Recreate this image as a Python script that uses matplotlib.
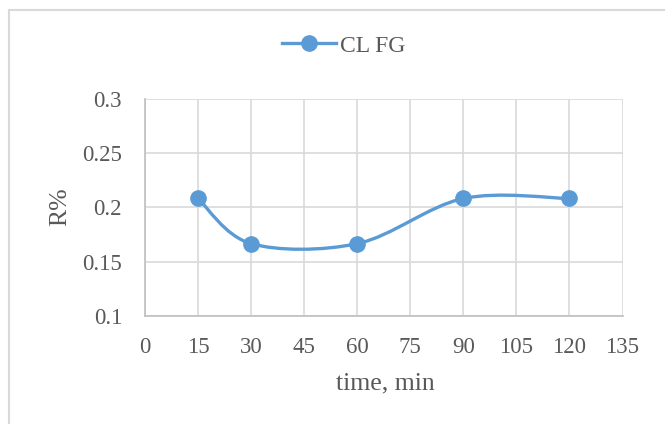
import numpy as np
import matplotlib.pyplot as plt
from matplotlib.path import Path
from matplotlib.patches import PathPatch, Rectangle
from matplotlib.lines import Line2D

time_min = [15, 30, 60, 90, 120]
r_pct = [0.2083, 0.1667, 0.1667, 0.2083, 0.2083]
series_name = 'CL FG'

x_ticks = list(range(0, 136, 15))
y_ticks = [0.1, 0.15, 0.2, 0.25, 0.3]
y_tick_labels = ['0.1', '0.15', '0.2', '0.25', '0.3']

blue = '#5B9BD5'
grid_c = '#D9D9D9'
axis_c = '#BFBFBF'
text_c = '#595959'

plt.rcParams['font.family'] = ['Liberation Serif', 'DejaVu Serif']


def smooth_path(xs, ys):
    # Excel-like smoothed line: cubic bezier with catmull-rom control points
    p = np.column_stack([xs, ys]).astype(float)
    n = len(p)
    verts = [p[0]]
    codes = [Path.MOVETO]
    for i in range(n - 1):
        prev = p[max(i - 1, 0)]
        nxt = p[min(i + 2, n - 1)]
        c1 = p[i] + (p[i + 1] - prev) / 6
        c2 = p[i + 1] - (nxt - p[i]) / 6
        verts += [c1, c2, p[i + 1]]
        codes += [Path.CURVE4] * 3
    return Path(verts, codes)


fig = plt.figure(figsize=(6.65, 4.24), dpi=100)
fig.patches.append(Rectangle((9 / 665, -0.1), 1.2, 1 - 10 / 424 + 0.1,
                             transform=fig.transFigure, fill=False,
                             edgecolor=grid_c, linewidth=1.5))
ax = fig.add_axes([145 / 665, 1 - 316 / 424, (622.5 - 145) / 665, (316 - 99) / 424])

ax.add_patch(PathPatch(smooth_path(time_min, r_pct), facecolor='none',
                       edgecolor=blue, linewidth=2.4, capstyle='round', zorder=3))
ax.plot(time_min, r_pct, linestyle='none', marker='o', markersize=11,
        color=blue, zorder=4)

ax.set_xlim(0, 135)
ax.set_ylim(0.1, 0.3)
ax.set_xticks(x_ticks)
ax.set_yticks(y_ticks)
ax.set_yticklabels(y_tick_labels)
ax.grid(True, color=grid_c, linewidth=1.2)
ax.set_axisbelow(True)
for side in ['top', 'right']:
    ax.spines[side].set_visible(False)
for side in ['left', 'bottom']:
    ax.spines[side].set_color(axis_c)
    ax.spines[side].set_linewidth(1.2)
ax.tick_params(length=0, labelsize=16.5, colors=text_c)
ax.tick_params(axis='x', pad=15)
ax.tick_params(axis='y', pad=16.5)

ax.set_xlabel('time, min', fontsize=18.5, color=text_c, va='center')
ax.xaxis.set_label_coords(0.5 + (385 - 383.75) / 477.5, -(383 - 316) / 217)
ax.set_ylabel('R%', fontsize=18.5, color=text_c, va='center')
ax.yaxis.set_label_coords(-(145 - 60) / 477.5, 1 - (207 - 99) / 217)

handle = Line2D([], [], color=blue, linewidth=2.4, marker='o', markersize=11)
fig.legend([handle], [series_name], loc='center', bbox_to_anchor=(344 / 665, 1 - 46 / 424),
           frameon=False, fontsize=17, labelcolor=text_c, handlelength=2.25,
           handletextpad=0.2)

fig.savefig('out.png', dpi=100)
